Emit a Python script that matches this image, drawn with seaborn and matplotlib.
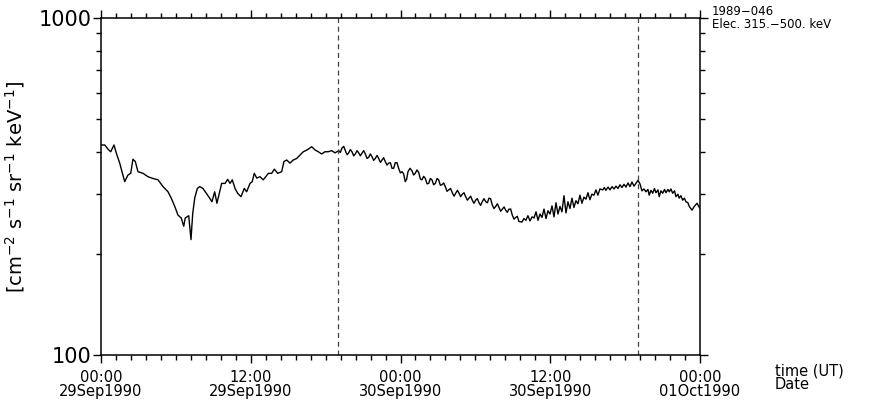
import numpy as np
import pandas as pd
import matplotlib
matplotlib.use("Agg")
import matplotlib.pyplot as plt
import seaborn as sns
from matplotlib.ticker import FixedLocator, NullFormatter, FixedFormatter

# ---- data (hours since 29Sep1990 00:00 UT, electron flux) ----
hours = [0.00, 0.30, 0.56, 0.78, 1.04, 1.23, 1.50, 1.68, 1.90, 2.16, 2.38, 2.56, 2.75, 2.96,
         3.37, 3.77, 4.17, 4.57, 4.97, 5.37, 5.63, 5.91, 6.17, 6.43, 6.63, 6.75, 7.03, 7.11,
         7.21, 7.35, 7.51, 7.72, 7.91, 8.17, 8.44, 8.71, 8.89, 9.11, 9.29,
         9.67, 9.94, 10.15, 10.34, 10.52, 10.74, 10.95, 11.22, 11.48, 11.67, 11.94, 12.12,
         12.28, 12.48, 12.74, 13.00, 13.20, 13.41, 13.68, 13.89, 14.16, 14.48, 14.66, 14.88,
         15.14, 15.41, 15.68, 15.95, 16.21, 16.40, 16.61, 16.88, 17.15, 17.41, 17.68, 17.95,
         18.21, 18.49, 18.75,
         19.05, 19.18, 19.31, 19.45, 19.58, 19.72, 19.85, 19.98, 20.11, 20.25, 20.38, 20.52,
         20.65, 20.78, 20.91, 21.05, 21.18, 21.32, 21.45, 21.58, 21.71, 21.85, 21.98, 22.12,
         22.25, 22.39, 22.52, 22.65, 22.78, 22.92, 23.05, 23.19, 23.32, 23.45, 23.58, 23.72,
         23.85, 23.99, 24.12, 24.25, 24.38, 24.49, 24.60, 24.76, 24.92, 25.05, 25.18, 25.32,
         25.46, 25.59, 25.72, 25.86, 25.99, 26.13, 26.26, 26.39, 26.52, 26.66, 26.79, 26.93,
         27.06, 27.19, 27.32, 27.46, 27.59, 27.73, 27.86, 28.01, 28.15, 28.29, 28.42, 28.56,
         28.69, 28.82, 28.95, 29.09, 29.22, 29.36, 29.49, 29.62, 29.75, 29.89, 30.02, 30.16,
         30.29, 30.42, 30.55, 30.69, 30.83, 30.96, 31.09, 31.22, 31.35, 31.49, 31.63, 31.76,
         31.89, 32.03, 32.16, 32.30, 32.43, 32.56, 32.69, 32.83, 32.96, 33.10, 33.23, 33.36,
         33.49,
         33.73, 33.89, 34.05, 34.21, 34.38, 34.54, 34.70, 34.86, 35.02, 35.18, 35.34, 35.50,
         35.66, 35.82, 35.98, 36.14, 36.30, 36.46, 36.62, 36.78, 36.94, 37.10, 37.26, 37.42,
         37.58, 37.74, 37.90, 38.06, 38.22, 38.38, 38.54, 38.70, 38.86, 39.02, 39.18, 39.34,
         39.50, 39.66, 39.82, 39.98,
         40.20, 40.34, 40.46, 40.63, 40.79, 40.95, 41.11, 41.27, 41.43, 41.59, 41.75, 41.91,
         42.07, 42.23, 42.39, 42.55, 42.71, 42.87, 43.03, 43.19, 43.35, 43.51, 43.67, 43.83,
         43.93, 44.07, 44.21, 44.35, 44.47, 44.63, 44.73, 44.87, 45.01, 45.16, 45.27, 45.43,
         45.54, 45.67, 45.81, 45.96, 46.07, 46.23, 46.33, 46.47, 46.61, 46.75, 46.87, 47.03,
         47.14, 47.36, 47.54, 47.76, 48.00]

flux = [420, 420, 408, 401, 420, 397, 371, 350, 327, 342, 346, 381, 375, 350,
        346, 338, 334, 331, 316, 305, 292, 276, 260, 255, 241, 255, 259, 240,
        220, 263, 292, 312, 316, 312, 302, 292, 285, 305, 282,
        323, 323, 332, 323, 331, 312, 302, 295, 312, 305, 323, 327,
        346, 335, 338, 331, 338, 346, 346, 356, 346, 350, 375, 379,
        371, 379, 383, 392, 401, 404, 408, 415, 406, 401, 395, 401,
        401, 404, 398,
        404, 399, 411, 416, 404, 393, 398, 407, 401, 390, 395, 404,
        398, 390, 397, 404, 395, 383, 386, 395, 388, 378, 383, 391,
        383, 373, 379, 385, 375, 366, 371, 372, 358, 358, 372, 372,
        358, 347, 350, 345, 327, 332, 350, 358, 352, 342, 346, 354,
        348, 333, 331, 339, 334, 322, 323, 334, 331, 320, 323, 334,
        331, 319, 320, 324, 316, 306, 309, 312, 303, 296, 302, 308,
        302, 295, 300, 303, 295, 288, 292, 296, 288, 282, 288, 291,
        283, 278, 285, 291, 285, 283, 292, 291, 279, 272, 276, 281,
        274, 267, 271, 275, 269, 265, 271, 271, 260, 253, 256, 258,
        249,
        248, 254, 251, 259, 250, 257, 255, 266, 251, 262, 256, 271,
        254, 268, 262, 277, 257, 283, 262, 276, 266, 297, 264, 285,
        272, 292, 274, 287, 281, 298, 282, 294, 290, 303, 289, 300,
        298, 309, 298, 311,
        309, 314, 308, 315, 309, 316, 311, 317, 312, 320, 314, 321,
        315, 324, 316, 326, 317, 323, 330, 322, 307, 311, 305, 310,
        298, 308, 302, 312, 303, 309, 295, 307, 302, 310, 303, 310,
        305, 311, 302, 307, 295, 300, 292, 297, 288, 292, 285, 283,
        276, 269, 276, 282, 272]

event_hours = [19.0, 43.0]
xtick_hours = [0, 12, 24, 36, 48]
xtick_labels = ["00:00\n29Sep1990", "12:00\n29Sep1990", "00:00\n30Sep1990",
                "12:00\n30Sep1990", "00:00\n01Oct1990"]
ytick_values = [100, 1000]
ytick_labels = ["100", "1000"]

df = pd.DataFrame({"hours": hours, "flux": flux})

sns.set_style("ticks")
plt.rcParams["font.family"] = ["DejaVu Sans"]
plt.rcParams["text.color"] = "black"
plt.rcParams["axes.labelcolor"] = "black"
plt.rcParams["xtick.color"] = "black"
plt.rcParams["ytick.color"] = "black"
plt.rcParams["axes.edgecolor"] = "black"

fig = plt.figure(figsize=(8.81, 4.0), dpi=100)
ax = fig.add_axes([101 / 881, 45 / 400, 599 / 881, 337 / 400])

sns.lineplot(data=df, x="hours", y="flux", ax=ax, color="black", linewidth=1.0,
             estimator=None, sort=False)

for h in event_hours:
    ax.axvline(h, color="#444444", linewidth=0.9, linestyle=(0, (4, 3)))

ax.set_yscale("log")
ax.set_ylim(100, 1000)
ax.set_xlim(0, 48)

ax.yaxis.set_major_locator(FixedLocator(ytick_values))
ax.yaxis.set_major_formatter(FixedFormatter(ytick_labels))
ax.yaxis.set_minor_locator(FixedLocator([200, 300, 400, 500, 600, 700, 800, 900]))
ax.yaxis.set_minor_formatter(NullFormatter())

ax.xaxis.set_major_locator(FixedLocator(xtick_hours))
ax.xaxis.set_major_formatter(FixedFormatter(xtick_labels))
ax.xaxis.set_minor_locator(FixedLocator([i * 1.2 for i in range(41)]))

for sp in ax.spines.values():
    sp.set_visible(True)
    sp.set_linewidth(1.1)
    sp.set_color("black")

ax.tick_params(which="both", direction="out", top=True, right=True, color="black",
               labelcolor="black", width=1.0)
ax.tick_params(which="major", length=6)
ax.tick_params(which="minor", length=3.5)
ax.tick_params(axis="y", which="major", labelsize=15, pad=1)
ax.tick_params(axis="x", which="major", labelsize=10.5, pad=5)
for lab in ax.get_xticklabels():
    lab.set_linespacing(0.9)

ax.set_xlabel("")
ax.set_ylabel(r"[cm$^{-2}$ s$^{-1}$ sr$^{-1}$ keV$^{-1}$]", fontsize=14, labelpad=8,
              color="black")

fig.text(712 / 881, 1 - 18 / 400, "1989\u2212046\nElec. 315.\u2212500. keV", fontsize=8.5,
         ha="left", va="center", linespacing=0.95, color="black")
fig.text(775 / 881, 1 - 378 / 400, "time (UT)\nDate", fontsize=10.5, ha="left", va="center",
         linespacing=0.9, color="black")

fig.savefig("out.png", dpi=100)
